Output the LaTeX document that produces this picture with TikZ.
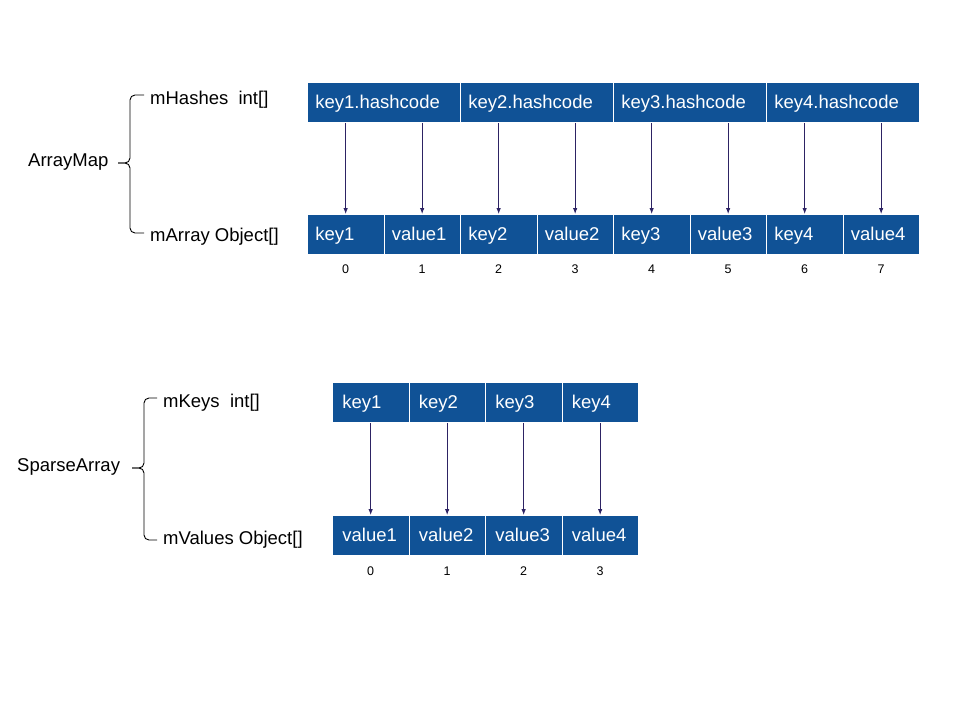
\documentclass[tikz,border=0pt]{standalone}
\usepackage{fontspec}
\setmainfont{Liberation Sans}
\usetikzlibrary{arrows.meta,calc}
\definecolor{cellblue}{RGB}{16,82,150}
\definecolor{arrowc}{RGB}{45,35,100}
\begin{document}
\begin{tikzpicture}[x=1pt,y=-1pt,
  cell/.style={fill=cellblue, draw=white, line width=0.8pt, text=white, anchor=north west,
    minimum height=40pt, inner xsep=#1, inner ysep=0pt, align=left,
    font=\fontsize{18.5}{20}\selectfont, text height=16pt, text depth=4pt},
  wide/.style={cell=8pt, text width=137pt},
  narrow/.style={cell=8pt, text width=60.5pt},
  sparse/.style={cell=10pt, text width=56.5pt},
  lbl/.style={anchor=west, inner sep=0pt, font=\fontsize{18.5}{20}\selectfont},
  idx/.style={inner sep=0pt, font=\fontsize{12.5}{14}\selectfont},
  arr/.style={draw=arrowc, line width=0.9pt, -{Latex[length=6pt,width=4.5pt]}},
  bracket/.style={draw=black, line width=0.9pt, rounded corners=5pt}]
\useasboundingbox (0,0) rectangle (960,720);

% ---------- ArrayMap ----------
\node[lbl] (am) at (28,162) {ArrayMap};
\node[lbl] (mh) at (150,100) {mHashes\ \ int[]};
\node[lbl] (ma) at (150,237) {mArray Object[]};
\draw[bracket] (144,95) -- (130,95) -- (130,163) -- (118,163);
\draw[bracket] (118,163) -- (130,163) -- (130,233) -- (144,233);

\node[wide] (h1) at (307,82) {key1.hashcode};
\node[wide] (h2) at (460,82) {key2.hashcode};
\node[wide] (h3) at (613,82) {key3.hashcode};
\node[wide] (h4) at (766,82) {key4.hashcode};

\node[narrow] (k1) at (307,214) {key1};
\node[narrow] (v1) at (383.5,214) {value1};
\node[narrow] (k2) at (460,214) {key2};
\node[narrow] (v2) at (536.5,214) {value2};
\node[narrow] (k3) at (613,214) {key3};
\node[narrow] (v3) at (689.5,214) {value3};
\node[narrow] (k4) at (766,214) {key4};
\node[narrow] (v4) at (842.5,214) {value4};

\foreach \h/\a/\b in {h1/k1/v1, h2/k2/v2, h3/k3/v3, h4/k4/v4}{
  \draw[arr] (\h.south -| \a.north) -- (\a.north);
  \draw[arr] (\h.south -| \b.north) -- (\b.north);
}

\node[idx] (i0) at ($(k1.south)+(0,14)$) {0};
\node[idx] (i1) at ($(v1.south)+(0,14)$) {1};
\node[idx] (i2) at ($(k2.south)+(0,14)$) {2};
\node[idx] (i3) at ($(v2.south)+(0,14)$) {3};
\node[idx] (i4) at ($(k3.south)+(0,14)$) {4};
\node[idx] (i5) at ($(v3.south)+(0,14)$) {5};
\node[idx] (i6) at ($(k4.south)+(0,14)$) {6};
\node[idx] (i7) at ($(v4.south)+(0,14)$) {7};

% ---------- SparseArray ----------
\node[lbl] (sa) at (17,467) {SparseArray};
\node[lbl] (mk) at (163,403) {mKeys\ \ int[]};
\node[lbl] (mv) at (163,540) {mValues Object[]};
\draw[bracket] (157,398) -- (144,398) -- (144,468) -- (132,468);
\draw[bracket] (132,468) -- (144,468) -- (144,540) -- (157,540);

\node[sparse] (sk1) at (332,382) {key1};
\node[sparse] (sk2) at (408.5,382) {key2};
\node[sparse] (sk3) at (485,382) {key3};
\node[sparse] (sk4) at (561.5,382) {key4};

\node[sparse] (sv1) at (332,515) {value1};
\node[sparse] (sv2) at (408.5,515) {value2};
\node[sparse] (sv3) at (485,515) {value3};
\node[sparse] (sv4) at (561.5,515) {value4};

\foreach \i in {1,2,3,4}{
  \draw[arr] (sk\i.south) -- (sv\i.north);
}

\node[idx] (j0) at ($(sv1.south)+(0,15)$) {0};
\node[idx] (j1) at ($(sv2.south)+(0,15)$) {1};
\node[idx] (j2) at ($(sv3.south)+(0,15)$) {2};
\node[idx] (j3) at ($(sv4.south)+(0,15)$) {3};
\end{tikzpicture}
\end{document}
